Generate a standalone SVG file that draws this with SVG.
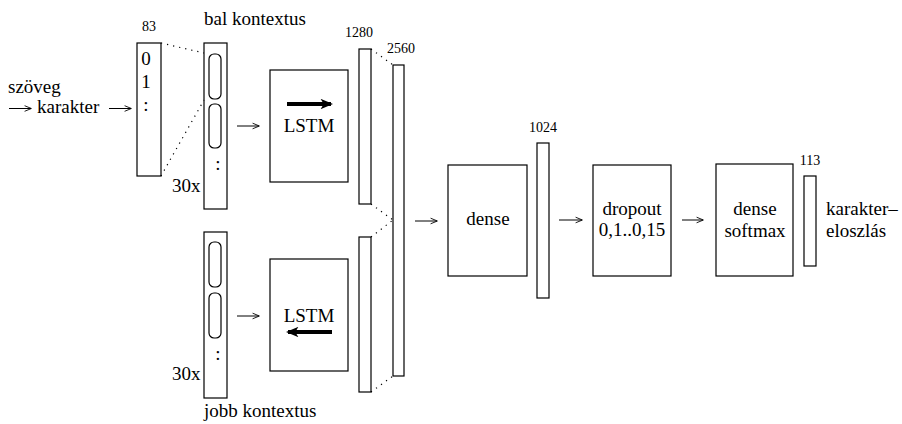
<svg xmlns="http://www.w3.org/2000/svg" width="902" height="424" viewBox="0 0 902 424">
<style>
text{font-family:"Liberation Serif","Times New Roman",serif;fill:#000}
.t{font-size:19px}
.s{font-size:14px}
.b{fill:#fff;stroke:#000;stroke-width:1.2}
.r{fill:none;stroke:#000;stroke-width:1.2}
.d{stroke:#000;stroke-width:1.2;stroke-dasharray:1.2 5;fill:none}
.a{stroke:#000;stroke-width:1;fill:none;marker-end:url(#ah)}
.k{stroke:#000;stroke-width:4;fill:none;marker-end:url(#th)}
</style>
<defs>
<marker id="ah" viewBox="0 0 10 10" refX="9" refY="5" markerWidth="8" markerHeight="8" markerUnits="userSpaceOnUse" orient="auto">
<path d="M1,1.5 L9.5,5 L1,8.5" fill="none" stroke="#000" stroke-width="1.1"/>
</marker>
<marker id="th" viewBox="0 0 12 10" refX="10" refY="5" markerWidth="3.3" markerHeight="2.6" orient="auto">
<path d="M0,0 L12,5 L0,10 L3,5 Z" fill="#000"/>
</marker>
</defs>
<g id="input">
<text class="t" x="8" y="93">szöveg</text>
<text class="t" x="37" y="113">karakter</text>
</g>
<g id="onehot">
<text class="s" x="149" y="31" text-anchor="middle">83</text>
<rect class="b" x="137" y="43" width="24" height="133"/>
<text class="t" x="146" y="65" text-anchor="middle">0</text>
<text class="t" x="146" y="88" text-anchor="middle">1</text>
<text class="t" x="146" y="111" text-anchor="middle">:</text>
</g>
<g id="left-context">
<text class="t" x="204" y="25">bal kontextus</text>
<rect class="b" x="204" y="43" width="23" height="166"/>
<rect class="r" x="209" y="54" width="12" height="45" rx="5"/>
<rect class="r" x="209" y="104" width="12" height="44" rx="5"/>
<text class="t" x="218" y="170" text-anchor="middle">:</text>
<text class="t" x="172" y="192">30x</text>
</g>
<g id="right-context">
<rect class="b" x="204" y="232" width="23" height="166"/>
<rect class="r" x="209" y="242" width="12" height="45" rx="5"/>
<rect class="r" x="209" y="293" width="12" height="45" rx="5"/>
<text class="t" x="218" y="360" text-anchor="middle">:</text>
<text class="t" x="172" y="380">30x</text>
<text class="t" x="204" y="417">jobb kontextus</text>
</g>
<g id="lstm-forward">
<rect class="b" x="270" y="70" width="78" height="112"/>
<line class="k" x1="287" y1="104" x2="331" y2="104"/>
<text class="t" x="309" y="132" text-anchor="middle">LSTM</text>
</g>
<g id="lstm-backward">
<rect class="b" x="270" y="259" width="78" height="112"/>
<text class="t" x="309" y="322" text-anchor="middle">LSTM</text>
<line class="k" x1="332" y1="332" x2="288" y2="332"/>
</g>
<g id="out-forward">
<text class="s" x="359" y="37" text-anchor="middle">1280</text>
<rect class="b" x="359" y="49" width="12" height="155"/>
</g>
<g id="out-backward">
<rect class="b" x="359" y="237" width="12" height="155"/>
</g>
<g id="concat">
<text class="s" x="401" y="53" text-anchor="middle">2560</text>
<rect class="b" x="393" y="65" width="11" height="311"/>
</g>
<g id="dense">
<rect class="b" x="448" y="165" width="79" height="111"/>
<text class="t" x="488" y="225" text-anchor="middle">dense</text>
</g>
<g id="hidden">
<text class="s" x="543" y="132" text-anchor="middle">1024</text>
<rect class="b" x="537" y="143" width="12" height="155"/>
</g>
<g id="dropout">
<rect class="b" x="593" y="165" width="78" height="111"/>
<text class="t" x="632" y="215" text-anchor="middle">dropout</text>
<text class="t" x="632" y="236" text-anchor="middle">0,1..0,15</text>
</g>
<g id="softmax">
<rect class="b" x="716" y="164" width="77" height="112"/>
<text class="t" x="755" y="215" text-anchor="middle">dense</text>
<text class="t" x="755" y="237" text-anchor="middle">softmax</text>
</g>
<g id="output">
<text class="s" x="810" y="165" text-anchor="middle">113</text>
<rect class="b" x="804" y="176" width="12" height="90"/>
<text class="t" x="826" y="215">karakter–</text>
<text class="t" x="826" y="237">eloszlás</text>
</g>
<g id="connectors">
<line class="a" x1="9" y1="108.5" x2="31" y2="108.5"/>
<line class="a" x1="109" y1="108.5" x2="131" y2="108.5"/>
<line class="d" x1="161" y1="43" x2="204" y2="53"/>
<line class="d" x1="161" y1="176" x2="204" y2="100"/>
<line class="a" x1="237" y1="126" x2="259" y2="126"/>
<line class="a" x1="237" y1="316" x2="259" y2="316"/>
<line class="d" x1="371" y1="49" x2="393" y2="65"/>
<line class="d" x1="371" y1="204" x2="393" y2="220"/>
<line class="d" x1="371" y1="237" x2="393" y2="220"/>
<line class="d" x1="371" y1="392" x2="393" y2="376"/>
<line class="a" x1="415" y1="221" x2="437" y2="221"/>
<line class="a" x1="559" y1="220" x2="582" y2="220"/>
<line class="a" x1="682" y1="220" x2="703" y2="220"/>
</g>
</svg>
